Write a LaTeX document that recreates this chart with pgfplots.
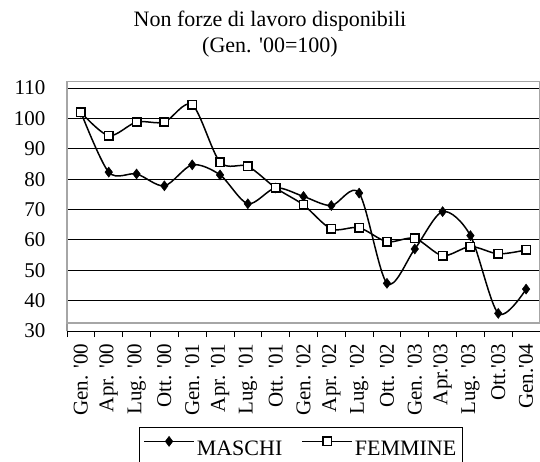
\documentclass[border=0pt]{standalone}
\usepackage{fontspec}
\setmainfont{Liberation Serif}
\usepackage{pgfplots}
\pgfplotsset{compat=1.18}
\usepackage{pgfplotstable}
\newcommand{\q}{\textquotesingle}
\pgfplotstableread{
x m f
0 102.0 102.0
1 82.3 94.3
2 81.7 98.8
3 77.8 98.8
4 84.7 104.5
5 81.4 85.6
6 71.9 84.2
7 77.1 77.1
8 74.3 71.5
9 71.3 63.6
10 75.4 64.0
11 45.7 59.4
12 57.0 60.5
13 69.3 54.8
14 61.4 57.8
15 35.8 55.4
16 43.8 56.7
}\data
\begin{document}
\begin{tikzpicture}[x=1pt,y=1pt]
\useasboundingbox (0,0) rectangle (540,461);
\node[anchor=base, font=\fontsize{22}{26}\selectfont, inner sep=0pt] at (270,434) {Non forze di lavoro disponibili};
\node[anchor=base, font=\fontsize{22}{26}\selectfont, inner sep=0pt] at (270,408) {(Gen. \q00=100)};
\begin{axis}[
  at={(67pt,130pt)}, anchor=south west, scale only axis,
  width=473pt, height=243pt,
  xmin=-0.5, xmax=16.5, ymin=30, ymax=110,
  ytick={30,40,...,110},
  xtick={0,...,16},
  xticklabels={Gen. \q00, Apr. \q00, Lug. \q00, Ott. \q00, Gen. \q01, Apr. \q01, Lug. \q01, Ott. \q01, Gen. \q02, Apr. \q02, Lug. \q02, Ott. \q02, Gen. \q03, Apr.\q03, Lug. \q03, Ott.\q03, Gen.\q04},
  minor xtick={-0.5,0.5,...,16.5},
  major tick length=0pt, minor tick length=6pt, tick align=outside,
  axis x line*=bottom, axis y line*=left,
  x axis line style={black, line width=0.8pt, -},
  y axis line style={gray!80, line width=1.2pt, -},
  minor tick style={black, line width=0.8pt},
  ymajorgrids, grid style={black, line width=0.8pt},
  clip=false,
  ticklabel style={font=\fontsize{21}{25}\selectfont},
  /pgf/number format/assume math mode=true,
  yticklabel style={anchor=east, xshift=-18pt},
  xticklabel style={rotate=90, anchor=east, xshift=-9pt},
  legend columns=2,
  legend style={at={(0.152,-0.395)}, anchor=north west, draw=black, line width=0.8pt,
    font=\fontsize{22}{26}\selectfont, inner xsep=4pt, inner ysep=9pt,
    /tikz/every even column/.append style={column sep=17pt}},
  legend image code/.code={\draw[mark repeat=2, mark phase=2, #1] plot coordinates {(0pt,8pt) (25pt,8pt) (50pt,8pt)};},
]
\draw[gray!70, line width=1.5pt] (rel axis cs:0,0.033) rectangle (rel axis cs:1,1.026);
\addplot[black, line width=1.5pt, smooth, tension=0.5, mark=diamond*, mark size=5pt, mark options={fill=black, line width=0.5pt}] table[x=x,y=m]{\data};
\addplot[black, line width=1.5pt, smooth, tension=0.5, mark=square*, mark size=4.2pt, mark options={fill=white, line width=1.5pt}] table[x=x,y=f]{\data};
\legend{MASCHI\rule[-12pt]{0pt}{1pt}, FEMMINE}
\end{axis}
\end{tikzpicture}
\end{document}
